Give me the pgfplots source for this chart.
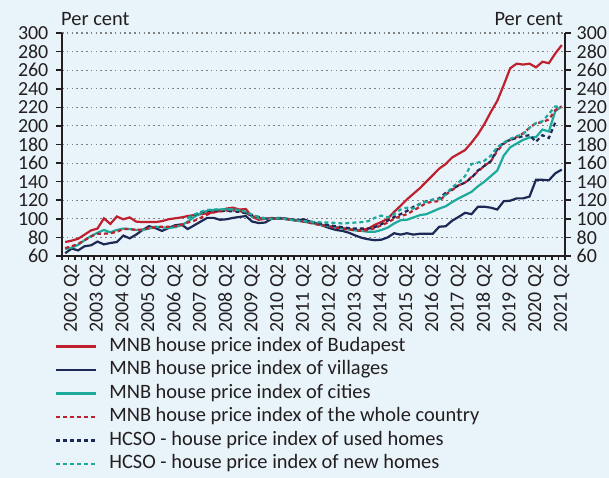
\documentclass[border=0pt]{standalone}
\usepackage{pgfplots}
\pgfplotsset{compat=1.18}
\usepackage{pgfplotstable}
\usepackage{fontspec}
\setmainfont{Carlito}
\definecolor{bg}{RGB}{232,243,250}
\definecolor{cred}{RGB}{190,32,46}
\definecolor{cnavy}{RGB}{27,41,84}
\definecolor{cteal}{RGB}{29,170,155}
\definecolor{axc}{RGB}{35,31,32}
\pgfplotstableread{
x bud vil cit whole used new
0.5 75 63 67.5 68.5 nan nan
1.5 76.5 68 69 70.5 nan nan
2.5 78.5 66 72 73 nan nan
3.5 83 70.5 77 77 nan nan
4.5 87.5 71.5 81.5 81 nan nan
5.5 89.5 75.5 85 84 nan nan
6.5 100.5 72.5 88 84 nan nan
7.5 94.5 74 85.5 84.5 nan nan
8.5 102.5 75 88 86 nan nan
9.5 99.5 82 89.5 89 nan nan
10.5 101.5 79 89 89 nan nan
11.5 97 83 88 88 nan nan
12.5 96.5 88 88 88.5 nan nan
13.5 96.5 92 89.5 90 nan nan
14.5 96.5 90 91.5 91 nan nan
15.5 97.5 87 91 91.5 nan nan
16.5 99.5 90 90 91.5 nan nan
17.5 100.5 93 91 92 nan nan
18.5 101.5 94 93 93.5 nan nan
19.5 103 89 97 96 101 101
20.5 104 93 102 98 104 104.5
21.5 105 97 106 101 107 107.5
22.5 106 101 108.5 104.5 108.5 109.5
23.5 107 101 109.5 107 109 110
24.5 108.5 99 110 108 109 110
25.5 111 99.5 110 108.5 108.5 110
26.5 112 101 110 109 108 110
27.5 110 102 109 108.5 107.5 109.5
28.5 110.5 103 106.5 106.5 106 107.5
29.5 102 97 102.5 103 104 104.5
30.5 99 95.5 100.5 101 102 102
31.5 100 96 100 100 100.5 100.5
32.5 101 100 100 100 100 100
33.5 100 101 100.5 100.5 100.5 100.5
34.5 100 100.5 100 100 100 100
35.5 99 99.5 99 99 99 99
36.5 98 98.5 98 98 98.5 98
37.5 97 99.5 97 97 97.5 97.5
38.5 96 97 96 95.5 97 97
39.5 94.5 95 94.5 94 95.5 96.5
40.5 93 92.5 93 93 94.5 96
41.5 92 90 92 91.5 93 96
42.5 91 88 91 90.5 92 95.5
43.5 90 87 89.5 89.5 91 95
44.5 89 85 88.5 88.5 90 95.5
45.5 88 82 87.5 87.5 89.5 96
46.5 88 79.5 87 87 89.5 96.5
47.5 89.5 78 86 88 89.5 97.5
48.5 93.5 77 86 90 91 101
49.5 96.5 77.5 88 93 94 103.5
50.5 100 80 90.5 96 98 101.5
51.5 107.5 84.5 95 100 102 105
52.5 114 83 98.5 103 105 110
53.5 121 84.5 99 105 108.5 112
54.5 127 83 101.5 109 113 111
55.5 133 84 104 113 116 116
56.5 140 84 105 117 119 118.5
57.5 147 84 108 118.5 120.5 120.5
58.5 154 91.5 111 119 122 121
59.5 159 92 113.5 126 128 126
60.5 166 98 118 131 132 134
61.5 170 102 122 136 136 139
62.5 174 106.5 125.5 139 139 146
63.5 182 105 129 145 144 159
64.5 191 113 135 151 152 160.5
65.5 202 113 140 157 157 162.5
66.5 215 112 146 162 162 168
67.5 227 110 152 173 175 177
68.5 244 119 168 181 182 182
69.5 262 119.5 177 185 185 186
70.5 267 122 181 188 187 189
71.5 266 122 185 192 189 191
72.5 267 124 187.5 198 190 198
73.5 263 142 188 203 183 203
74.5 269 142 196 204 190 205
75.5 267.5 141.5 194 207 187 213
76.5 278 149 216 217 204 221
77.5 287 153 221 221 nan 220
}\data
\begin{document}
\begin{tikzpicture}[x=1bp,y=1bp]
\fill[bg] (0,0) rectangle (609,478);
\begin{axis}[
  at={(62bp,222bp)}, anchor=south west,
  width=503bp, height=223bp, scale only axis,
  xmin=0, xmax=78, ymin=60, ymax=300,
  axis x line*=bottom, axis y line*=left,
  axis line style={-, line width=2bp, draw=axc},
  ytick={60,80,...,300},
  ymajorgrids,
  grid style={line width=1.1bp, draw=black!50, dash pattern=on 1.6bp off 3.2bp},
  tick align=outside,
  major tick length=6bp, minor tick length=4bp,
  tick style={line width=1.6bp, draw=axc},
  xtick={1.5,5.5,...,77.5},
  xticklabels={2002 Q2,2003 Q2,2004 Q2,2005 Q2,2006 Q2,2007 Q2,2008 Q2,2009 Q2,2010 Q2,2011 Q2,2012 Q2,2013 Q2,2014 Q2,2015 Q2,2016 Q2,2017 Q2,2018 Q2,2019 Q2,2020 Q2,2021 Q2},
  major x tick style={draw=none},
  minor xtick={0,1,...,78},
  xticklabel style={rotate=90, anchor=east, inner sep=2bp},
  ticklabel style={font=\fontsize{20}{21}\selectfont, text=axc},
  yticklabel style={inner sep=0.5bp, xshift=-7bp},
  /pgf/number format/assume math mode=true,
  legend style={at={(-0.014,-0.36)}, anchor=north west, draw=none, fill=none,
    inner sep=0pt, column sep=12bp, row sep=3.5bp,
    font=\fontsize{20.5}{22}\selectfont, text=axc,
    nodes={inner sep=0pt, text height=15bp, text depth=5bp}},
  legend cell align=left,
  legend image code/.code={\draw[#1] (0bp,0bp) -- (40bp,0bp);},
  every axis plot/.append style={line width=2.2bp},
  clip=false,
]
\addplot[cred, solid] table[x=x,y=bud] {\data};
\addlegendentry{MNB house price index of Budapest}
\addplot[cnavy, solid] table[x=x,y=vil] {\data};
\addlegendentry{MNB house price index of villages}
\addplot[cteal, solid] table[x=x,y=cit] {\data};
\addlegendentry{MNB house price index of cities}
\addplot[cred, dash pattern=on 4bp off 3bp] table[x=x,y=whole] {\data};
\addlegendentry{MNB house price index of the whole country}
\addplot[cnavy, dash pattern=on 4bp off 3bp] table[x=x,y=used] {\data};
\addlegendentry{HCSO - house price index of used homes}
\addplot[cteal, dash pattern=on 4bp off 3bp] table[x=x,y=new] {\data};
\addlegendentry{HCSO - house price index of new homes}
\end{axis}
\begin{axis}[
  at={(62bp,222bp)}, anchor=south west,
  width=503bp, height=223bp, scale only axis,
  xmin=0, xmax=78, ymin=60, ymax=300,
  axis y line*=right, axis x line=none,
  axis line style={-, line width=2bp, draw=axc},
  ytick={60,80,...,300},
  tick align=outside, major tick length=6bp,
  tick style={line width=1.6bp, draw=axc},
  ticklabel style={font=\fontsize{20}{21}\selectfont, text=axc},
  yticklabel style={inner sep=0.5bp, xshift=5bp},
  /pgf/number format/assume math mode=true,
]
\addplot[draw=none] coordinates {(0,100)};
\end{axis}
\node[anchor=west, font=\fontsize{20.5}{22}\selectfont, text=axc, inner sep=0pt] at (61bp,459bp) {Per cent};
\node[anchor=east, font=\fontsize{20.5}{22}\selectfont, text=axc, inner sep=0pt] at (563bp,459bp) {Per cent};
\pgfresetboundingbox
\useasboundingbox (0,0) rectangle (609,478);
\end{tikzpicture}
\end{document}
